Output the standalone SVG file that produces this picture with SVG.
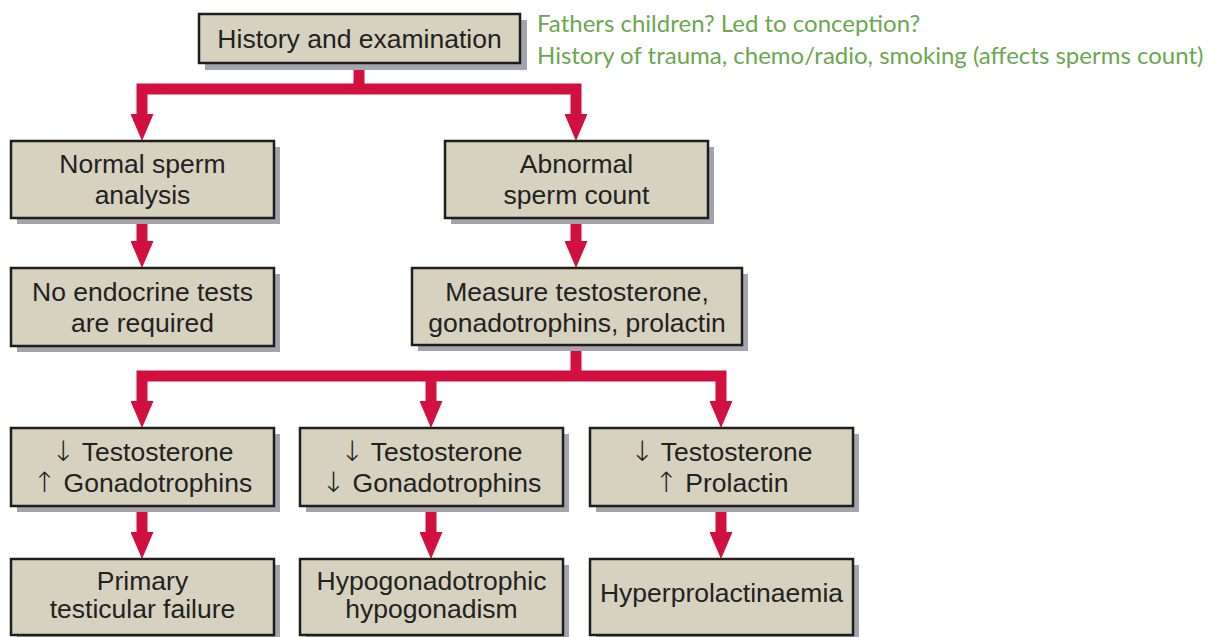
<svg xmlns="http://www.w3.org/2000/svg" width="1223" height="637" viewBox="0 0 1223 637">
<style>
.box{fill:#d7d2bf;stroke:#1e1e1e;stroke-width:2.5}
.shadow{fill:#a3a4ac}
.t{font-family:"Liberation Sans",Arial,sans-serif;font-size:26.5px;fill:#222;text-anchor:middle}
.ar{font-family:"DejaVu Sans",sans-serif;font-size:28px;font-weight:200}
.note{font-family:Lato,"Noto Sans",sans-serif;font-size:24px;fill:#6aa84f}
.c{fill:none;stroke:#d2103f;stroke-width:11;stroke-linejoin:miter}
</style>
<defs>
<marker id="ah" markerUnits="userSpaceOnUse" markerWidth="27" markerHeight="23" refX="0" refY="11.5" orient="auto" viewBox="0 0 27 23">
<path d="M0,0 L27,11.5 L0,23 z" fill="#d2103f"/>
</marker>
</defs>
<rect width="1223" height="637" fill="#fff"/>
<g id="connectors">
<path class="c" d="M359,63 V89"/>
<path class="c" d="M359,89 H142 V114" marker-end="url(#ah)"/>
<path class="c" d="M359,89 H576 V114" marker-end="url(#ah)"/>
<path class="c" d="M142,218 V241" marker-end="url(#ah)"/>
<path class="c" d="M576,218 V241" marker-end="url(#ah)"/>
<path class="c" d="M576,345 V376"/>
<path class="c" d="M576,376 H142 V401" marker-end="url(#ah)"/>
<path class="c" d="M576,376 H721 V401" marker-end="url(#ah)"/>
<path class="c" d="M431,376 V401" marker-end="url(#ah)"/>
<path class="c" d="M142,506 V532" marker-end="url(#ah)"/>
<path class="c" d="M431,506 V532" marker-end="url(#ah)"/>
<path class="c" d="M721,506 V532" marker-end="url(#ah)"/>
</g>
<g id="history">
<rect class="shadow" x="205" y="20" width="322" height="50"/>
<rect class="box" x="199" y="14" width="321" height="49"/>
<text class="t" x="359.5" y="48">History and examination</text>
</g>
<g id="note">
<text class="note" x="537" y="32">Fathers children? Led to conception?</text>
<text class="note" x="537" y="64">History of trauma, chemo/radio, smoking (affects sperms count)</text>
</g>
<g id="normal">
<rect class="shadow" x="17" y="147" width="263" height="77"/>
<rect class="box" x="11" y="141" width="263" height="77"/>
<text class="t" x="142.5" y="173">Normal sperm</text>
<text class="t" x="142.5" y="204">analysis</text>
</g>
<g id="abnormal">
<rect class="shadow" x="451" y="147" width="263" height="77"/>
<rect class="box" x="445" y="141" width="263" height="77"/>
<text class="t" x="576.5" y="173">Abnormal</text>
<text class="t" x="576.5" y="204">sperm count</text>
</g>
<g id="noendocrine">
<rect class="shadow" x="17" y="274" width="263" height="78"/>
<rect class="box" x="11" y="268" width="263" height="78"/>
<text class="t" x="142.5" y="301">No endocrine tests</text>
<text class="t" x="142.5" y="332">are required</text>
</g>
<g id="measure">
<rect class="shadow" x="418" y="274" width="330" height="77"/>
<rect class="box" x="412" y="268" width="330" height="77"/>
<text class="t" x="577" y="301">Measure testosterone,</text>
<text class="t" x="577" y="332">gonadotrophins, prolactin</text>
</g>
<g id="primaryLab">
<rect class="shadow" x="17" y="434" width="263" height="78"/>
<rect class="box" x="11" y="428" width="263" height="78"/>
<text class="t" x="142.5" y="461"><tspan class="ar">↓</tspan> Testosterone</text>
<text class="t" x="142.5" y="492"><tspan class="ar">↑</tspan> Gonadotrophins</text>
</g>
<g id="hypoLab">
<rect class="shadow" x="306" y="434" width="263" height="78"/>
<rect class="box" x="300" y="428" width="263" height="78"/>
<text class="t" x="431.5" y="461"><tspan class="ar">↓</tspan> Testosterone</text>
<text class="t" x="431.5" y="492"><tspan class="ar">↓</tspan> Gonadotrophins</text>
</g>
<g id="prolLab">
<rect class="shadow" x="596" y="434" width="263" height="78"/>
<rect class="box" x="590" y="428" width="263" height="78"/>
<text class="t" x="721.5" y="461"><tspan class="ar">↓</tspan> Testosterone</text>
<text class="t" x="721.5" y="492"><tspan class="ar">↑</tspan> Prolactin</text>
</g>
<g id="primary">
<rect class="shadow" x="17" y="565" width="263" height="76"/>
<rect class="box" x="11" y="559" width="263" height="76"/>
<text class="t" x="142.5" y="590">Primary</text>
<text class="t" x="142.5" y="618">testicular failure</text>
</g>
<g id="hypogonadism">
<rect class="shadow" x="306" y="565" width="263" height="76"/>
<rect class="box" x="300" y="559" width="263" height="76"/>
<text class="t" x="431.5" y="590">Hypogonadotrophic</text>
<text class="t" x="431.5" y="618">hypogonadism</text>
</g>
<g id="hyperprolactinaemia">
<rect class="shadow" x="596" y="565" width="263" height="76"/>
<rect class="box" x="590" y="559" width="263" height="76"/>
<text class="t" x="721.5" y="602">Hyperprolactinaemia</text>
</g>
</svg>
